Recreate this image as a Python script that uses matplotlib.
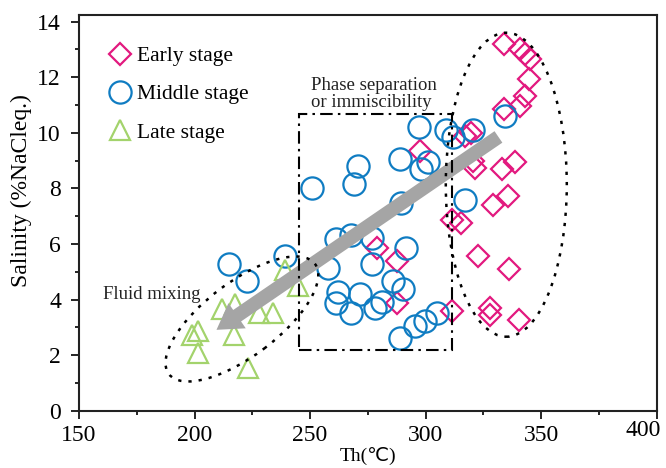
import matplotlib
matplotlib.use("Agg")
import matplotlib.pyplot as plt
import matplotlib.transforms as mtransforms
from matplotlib.patches import Ellipse, Rectangle
import numpy as np

plt.rcParams["font.family"] = ["Liberation Serif", "DejaVu Sans"]

# Early stage (diamonds)
early_th = [333.8, 340.7, 343.0, 345.1, 344.8, 342.9, 340.7, 333.8, 317.0, 319.8,
            297.5, 320.5, 321.3, 333.1, 338.6, 329.2, 335.7, 311.2, 315.1, 322.7,
            336.1, 278.8, 287.4, 287.4, 311.2, 327.8, 327.8, 340.4]
early_sal = [13.18, 13.0, 12.85, 12.66, 11.92, 11.32, 10.98, 10.84, 9.87, 10.0,
             9.33, 8.97, 8.73, 8.7, 8.94, 7.41, 7.71, 6.87, 6.75, 5.55,
             5.1, 5.87, 5.37, 3.87, 3.57, 3.69, 3.45, 3.27]

# Middle stage (circles)
middle_th = [297.1, 308.6, 311.9, 320.5, 334.3, 288.8, 298.2, 301.1, 270.8, 269.1,
             250.9, 289.3, 317.2, 261.0, 267.9, 277.0, 291.7, 257.8, 276.9, 286.0,
             290.3, 262.2, 261.2, 267.9, 271.8, 278.0, 281.3, 289.1, 295.3, 299.8,
             304.7, 239.1, 222.9, 215.1]
middle_sal = [10.21, 10.1, 9.85, 10.1, 10.6, 9.07, 8.7, 8.94, 8.82, 8.16,
              8.0, 7.47, 7.59, 6.18, 6.31, 6.21, 5.86, 5.15, 5.29, 4.67,
              4.37, 4.27, 3.89, 3.53, 4.2, 3.71, 3.9, 2.61, 3.03, 3.21,
              3.53, 5.58, 4.65, 5.27]

# Late stage (triangles)
late_th = [198.7, 201.6, 201.6, 211.7, 217.5, 217.0, 228.0, 234.0, 223.2, 239.1, 244.9]
late_sal = [2.73, 2.88, 2.07, 3.65, 3.85, 2.73, 3.53, 3.53, 1.53, 5.07, 4.47]

c_early = "#e2197f"
c_middle = "#0f7cc2"
c_late = "#a3d36c"

fig = plt.figure(figsize=(6.66, 4.68), dpi=100)
ax = fig.add_axes([0.1186, 0.1224, 0.8675, 0.8446])
ax.set_xlim(150, 400)
ax.set_ylim(0, 14.22)

ax.plot(early_th, early_sal, "D", ms=11, mfc="none", mec=c_early, mew=1.6,
        ls="none", label="Early stage", zorder=3)
ax.plot(middle_th, middle_sal, "o", ms=16, mfc="none", mec=c_middle, mew=1.6,
        ls="none", label="Middle stage", zorder=3)
ax.plot(late_th, late_sal, "^", ms=15, mfc="none", mec=c_late, mew=1.6,
        ls="none", label="Late stage", zorder=3)

# gray trend arrow
ax.annotate("", xy=(209.5, 2.91), xytext=(331.5, 9.85),
            arrowprops=dict(arrowstyle="simple,head_length=1.8,head_width=2.2,tail_width=1.0",
                            mutation_scale=10, color="#a5a5a5", lw=0,
                            shrinkA=0, shrinkB=0), zorder=4)

# phase separation box
ax.add_patch(Rectangle((245, 2.2), 66.6, 8.46, fill=False, ec="black", lw=1.5,
                       ls=(0, (6, 2.5, 1.2, 2.5)), zorder=5))

# dotted ellipses (sized in inches, centred in data coords)
def dotted_ellipse(cx, cy, w, h, angle):
    trans = fig.dpi_scale_trans + mtransforms.ScaledTranslation(cx, cy, ax.transData)
    ax.add_patch(Ellipse((0, 0), w, h, angle=angle, transform=trans, fill=False,
                         ec="black", lw=1.8, ls=(0, (1.3, 2.8)), zorder=5))

dotted_ellipse(334.9, 8.13, 1.21, 3.04, 0)
dotted_ellipse(220.5, 3.30, 1.83, 0.74, 37)

ax.text(250.6, 11.4, "Phase separation\nor immiscibility", fontsize=13.5,
        ha="left", va="center", linespacing=0.95, color="#222222")
ax.text(160.2, 4.17, "Fluid mixing", fontsize=13.5, ha="left", va="center",
        color="#222222")

ax.set_xticks(np.arange(150, 401, 50))
ax.set_xticks(np.arange(175, 400, 50), minor=True)
ax.set_yticks(np.arange(0, 15, 2))
ax.set_yticks(np.arange(1, 14, 2), minor=True)
ax.tick_params(which="major", direction="out", length=6, width=1.2, labelsize=17)
ax.tick_params(axis="y", which="major", pad=7)
ax.tick_params(axis="x", which="major", pad=4)
ax.tick_params(which="minor", direction="out", length=3, width=1.2)
for s in ax.spines.values():
    s.set_linewidth(1.5)
    s.set_color("#222222")

# last x tick label sits inside the figure edge
last = ax.get_xticklabels()[-1]
last.set_transform(last.get_transform() +
                   mtransforms.ScaledTranslation(-14 / 100, 5 / 100, fig.dpi_scale_trans))

ax.set_xlabel("Th(℃)", fontsize=14, labelpad=1)
ax.set_ylabel("Salinity (%NaCleq.)", fontsize=17)
ax.yaxis.set_label_coords(-0.082, 0.558)

ax.legend(loc="upper left", bbox_to_anchor=(0.03, 0.955), frameon=False,
          fontsize=15.5, handletextpad=0.3, labelspacing=0.84, borderaxespad=0.2,
          handlelength=1.0)

fig.savefig("out.png", dpi=100)
